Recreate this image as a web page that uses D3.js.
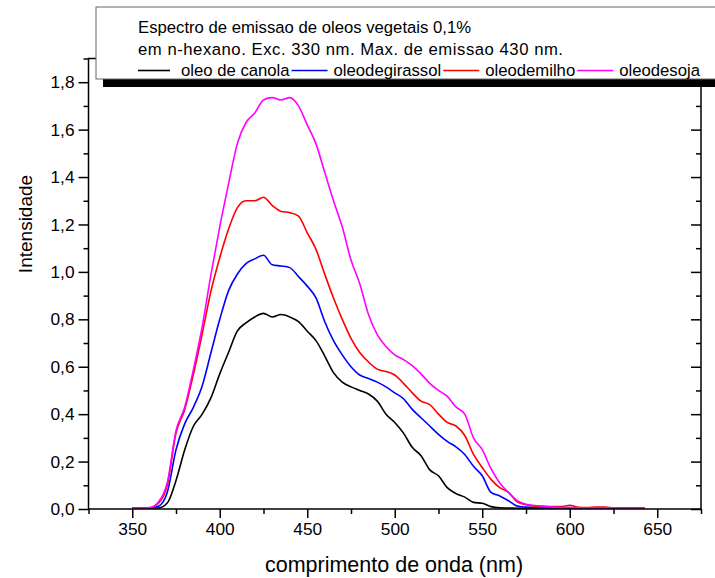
<!DOCTYPE html>
<html>
<head>
<meta charset="utf-8">
<script src="https://cdn.jsdelivr.net/npm/d3@7"></script>
<style>
  body { margin: 0; background: #fff; }
  svg { display: block; font-family: Arial, "Liberation Sans", sans-serif; }
</style>
</head>
<body>
<svg id="chart" width="715" height="578"></svg>
<script>

// wavelengths (nm)
var wavelengths = [350,355,360,365,370,375,380,385,390,395,400,405,410,415,420,425,430,435,440,445,
  450,455,460,465,470,475,480,485,490,495,500,505,510,515,520,525,530,535,540,545,
  550,555,560,565,570,575,580,585,590,595,600,605,610,615,620,625,630,635,640,643];

var canola = [.003,.003,.003,.004,.025,.12,.25,.35,.40,.47,.57,.66,.75,.785,.81,.825,.81,.82,.81,.79,
  .75,.71,.645,.575,.535,.515,.50,.485,.455,.40,.365,.32,.26,.225,.165,.14,.09,.065,.05,.028,
  .024,.01,.005,.004,.003,.003,.003,.003,.003,.003,.003,.003,.003,.003,.003,.003,.003,.003,.003,.003];

var girassol = [.004,.004,.004,.012,.07,.25,.36,.43,.52,.66,.80,.92,.99,1.035,1.055,1.07,1.03,1.025,1.018,.98,
  .94,.89,.79,.71,.65,.60,.565,.55,.535,.515,.49,.465,.42,.385,.35,.315,.285,.262,.23,.18,
  .14,.07,.055,.035,.012,.008,.006,.005,.004,.004,.004,.004,.004,.004,.004,.004,.004,.004,.004,.004];

var milho = [.004,.004,.005,.025,.10,.32,.42,.57,.74,.92,1.06,1.18,1.27,1.30,1.30,1.315,1.28,1.255,1.25,1.235,
  1.165,1.095,.99,.89,.80,.72,.66,.62,.59,.58,.565,.53,.49,.455,.44,.40,.365,.35,.31,.23,
  .175,.125,.09,.07,.03,.018,.012,.01,.01,.01,.016,.007,.006,.008,.008,.005,.004,.004,.004,.004];

var soja = [.004,.004,.006,.03,.11,.33,.43,.59,.77,.99,1.19,1.37,1.54,1.63,1.67,1.725,1.735,1.725,1.735,1.70,
  1.62,1.54,1.42,1.30,1.19,1.05,.95,.82,.735,.685,.65,.63,.605,.57,.53,.50,.475,.43,.40,.30,
  .25,.17,.11,.07,.035,.02,.015,.012,.008,.006,.007,.005,.005,.006,.005,.005,.004,.004,.004,.004];

var seriesNames = ["oleo de canola", "oleodegirassol", "oleodemilho", "oleodesoja"];
var seriesColors = ["#000000", "#0000ff", "#ff0000", "#ff00ff"];
var seriesValues = [canola, girassol, milho, soja];

var xMajor = [350, 400, 450, 500, 550, 600, 650];
var xMinor = [325, 375, 425, 475, 525, 575, 625, 675];
var yMajor = [0, 0.2, 0.4, 0.6, 0.8, 1.0, 1.2, 1.4, 1.6, 1.8];
var yMinor = [0.1, 0.3, 0.5, 0.7, 0.9, 1.1, 1.3, 1.5, 1.7, 1.9];

var titleLines = ["Espectro de emissao de oleos vegetais 0,1%",
  "em n-hexano. Exc. 330 nm. Max. de emissao 430 nm."];

var svg = d3.select("#chart");

// plot frame (note: "top" is taken by window.top, so use other names)
var pLeft = 88.5, pRight = 701, pTop = 58.5, pBottom = 509;

var x = d3.scaleLinear().domain([325, 675]).range([pLeft, pRight]);
var y = d3.scaleLinear().domain([0, 1.9]).range([pBottom, pTop]);

var comma = function(d) { return d3.format(".1f")(d).replace(".", ","); };

// curves
var line = d3.line()
    .x(function(d) { return x(d[0]); })
    .y(function(d) { return y(d[1]); })
    .curve(d3.curveMonotoneX);

seriesValues.forEach(function(vals, i) {
  svg.append("path")
      .datum(wavelengths.map(function(w, j) { return [w, vals[j]]; }))
      .attr("fill", "none")
      .attr("stroke", seriesColors[i])
      .attr("stroke-width", 1.6)
      .attr("stroke-linejoin", "round")
      .attr("d", line);
});

// axes
function styleAxis(g) {
  g.select(".domain").remove();
  g.selectAll("line").attr("stroke", "#000").attr("stroke-width", 1.5);
  g.selectAll("text").attr("font-size", "17.3px").attr("fill", "#000")
      .attr("font-family", "Arial, 'Liberation Sans', sans-serif");
}

svg.append("g")
    .attr("transform", "translate(0," + pBottom + ")")
    .call(d3.axisBottom(x).tickValues(xMajor).tickSize(9).tickPadding(5).tickFormat(d3.format("d")))
    .call(styleAxis);
svg.append("g")
    .attr("transform", "translate(0," + pBottom + ")")
    .call(d3.axisBottom(x).tickValues(xMinor).tickSize(5).tickFormat(""))
    .call(styleAxis);

svg.append("g")
    .attr("transform", "translate(" + pLeft + ",0)")
    .call(d3.axisLeft(y).tickValues(yMajor).tickSize(10).tickPadding(4).tickFormat(comma))
    .call(styleAxis);
svg.append("g")
    .attr("transform", "translate(" + pLeft + ",0)")
    .call(d3.axisLeft(y).tickValues(yMinor).tickSize(5).tickFormat(""))
    .call(styleAxis);

// right axis, ticks pointing in
svg.append("g")
    .attr("transform", "translate(" + pRight + ",0)")
    .call(d3.axisLeft(y).tickValues(yMajor).tickSize(10).tickFormat(""))
    .call(styleAxis);
svg.append("g")
    .attr("transform", "translate(" + pRight + ",0)")
    .call(d3.axisLeft(y).tickValues(yMinor).tickSize(5).tickFormat(""))
    .call(styleAxis);

// frame
svg.append("rect")
    .attr("x", pLeft).attr("y", pTop)
    .attr("width", pRight - pLeft).attr("height", pBottom - pTop)
    .attr("fill", "none")
    .attr("stroke", "#000")
    .attr("stroke-width", 1.5);

// axis titles
svg.append("text")
    .attr("x", 394)
    .attr("y", 572)
    .attr("text-anchor", "middle")
    .attr("font-size", "21.5px")
    .text("comprimento de onda (nm)");

svg.append("text")
    .attr("transform", "translate(32,224) rotate(-90)")
    .attr("text-anchor", "middle")
    .attr("font-size", "19px")
    .text("Intensidade");

// legend box with shadow
svg.append("rect")
    .attr("x", 103).attr("y", 14)
    .attr("width", 700).attr("height", 73)
    .attr("fill", "#000");
svg.append("rect")
    .attr("x", 96).attr("y", 7)
    .attr("width", 700).attr("height", 72)
    .attr("fill", "#fff")
    .attr("stroke", "#666")
    .attr("stroke-width", 1);

svg.selectAll(".ttl")
    .data(titleLines)
  .enter().append("text")
    .attr("class", "ttl")
    .attr("x", 138)
    .attr("y", function(d, i) { return 33 + i * 22; })
    .attr("font-size", "16.7px")
    .text(function(d) { return d; });

// second title line runs a bit wider in the original
svg.selectAll(".ttl").filter(function(d, i) { return i === 1; })
    .attr("textLength", 425)
    .attr("lengthAdjust", "spacing");

var lx = 138;
seriesNames.forEach(function(name, i) {
  var len = i === 0 ? 32 : 36;
  var gap = i === 0 ? 11 : 6;
  svg.append("line")
      .attr("x1", lx).attr("x2", lx + len)
      .attr("y1", 70.5).attr("y2", 70.5)
      .attr("stroke", seriesColors[i])
      .attr("stroke-width", 1.6);
  var t = svg.append("text")
      .attr("x", lx + len + gap)
      .attr("y", 76)
      .attr("font-size", "16.7px")
      .text(name);
  lx = lx + len + gap + t.node().getComputedTextLength() + 2;
});

</script>
</body>
</html>
